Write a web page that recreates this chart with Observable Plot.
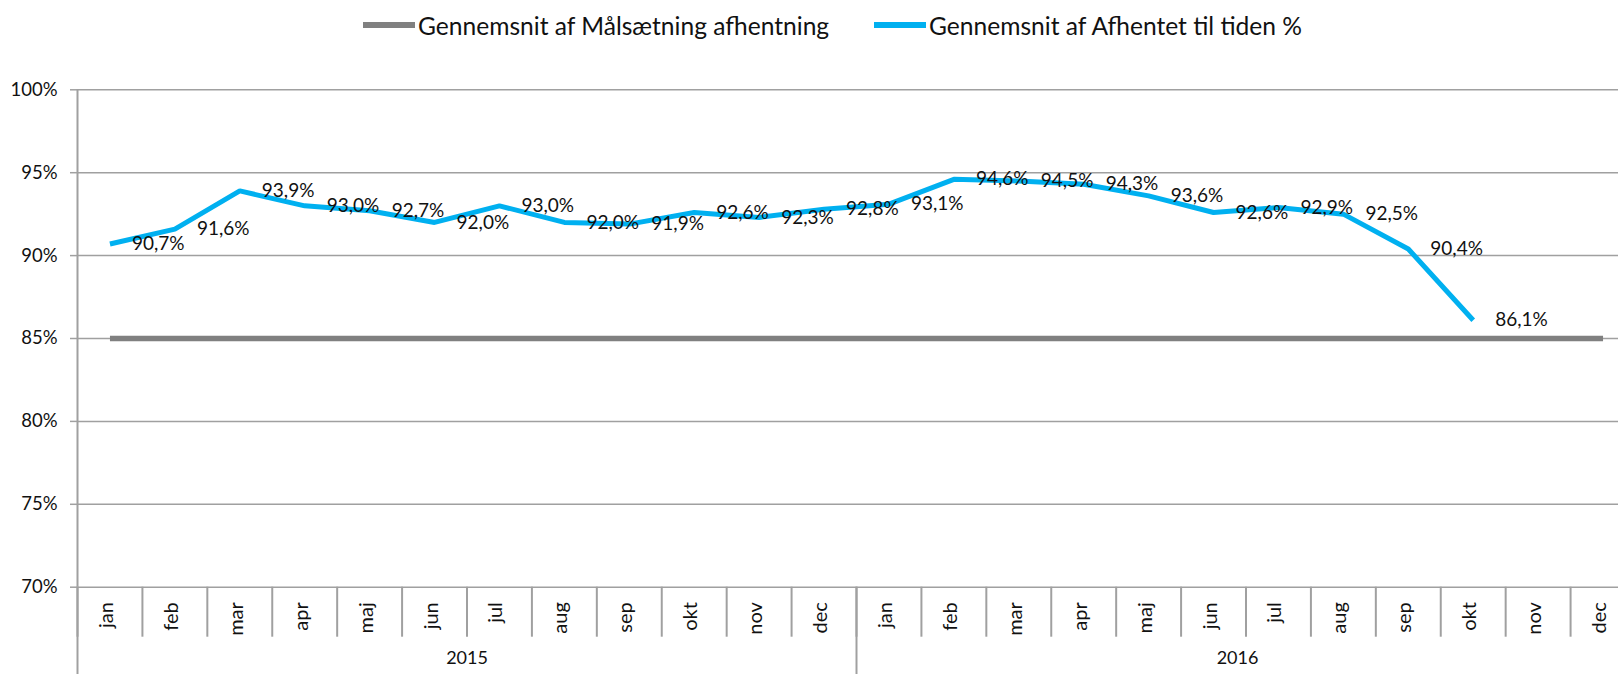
<!DOCTYPE html>
<html>
<head>
<meta charset="utf-8">
<script src="https://cdn.jsdelivr.net/npm/d3@7"></script>
<script src="https://cdn.jsdelivr.net/npm/@observablehq/plot@0.6"></script>
<style>
  html, body { margin: 0; padding: 0; background: #fff; overflow: hidden; }
  #wrap { width: 1618px; height: 674px; overflow: hidden; position: relative; font-family: Lato, "Open Sans", sans-serif; }
  #legend { position: relative; height: 50px; width: 1618px; }
  .item { position: absolute; top: 0; height: 50px; display: flex; align-items: center; color: #111; white-space: nowrap; }
  .sw { display: inline-block; width: 52px; height: 6px; margin-right: 3px; }
  #chart svg { display: block; max-width: none !important; }
</style>
</head>
<body>
<div id="wrap">
  <div id="legend"></div>
  <div id="chart"></div>
</div>
<script>
// ---- data ----
const months = ["jan","feb","mar","apr","maj","jun","jul","aug","sep","okt","nov","dec"];
const years = ["2015","2016"];
const targetValues = [85,85,85,85,85,85,85,85,85,85,85,85, 85,85,85,85,85,85,85,85,85,85,85,85];
const actualValues = [90.7, 91.6, 93.9, 93.0, 92.7, 92.0, 93.0, 92.0, 91.9, 92.6, 92.3, 92.8,
                      93.1, 94.6, 94.5, 94.3, 93.6, 92.6, 92.9, 92.5, 90.4, 86.1];
const yTicks = [70, 75, 80, 85, 90, 95, 100];
const seriesNames = ["Gennemsnit af Målsætning afhentning", "Gennemsnit af Afhentet til tiden %"];
const seriesColors = ["#808080", "#00b0f0"];

// ---- tables ----
const cats = years.flatMap(y => months.map(m => ({year: y, month: m})));
const target = targetValues.map((v, i) => ({i, v}));
const actual = actualValues.map((v, i) => ({i, v}));
const width = 1635, height = 624, mL = 77, mR = 0;
const catW = (width - mL - mR) / cats.length;
const visibleEnd = (1618 - mL) / catW;
const yearLabels = years.map((y, k) => ({year: y, c: (k * 12 + Math.min((k + 1) * 12, visibleEnd)) / 2}));

// ---- legend ----
const legend = document.getElementById("legend");
const lefts = [363, 874];
const targetW = [413, 373];
const cv = document.createElement("canvas").getContext("2d");
cv.font = "22px Lato";
const fs = 22 * ((targetW[0] / cv.measureText(seriesNames[0]).width) + (targetW[1] / cv.measureText(seriesNames[1]).width)) / 2;
seriesNames.forEach((n, k) => {
  const it = document.createElement("div");
  it.className = "item";
  it.style.left = lefts[k] + "px";
  it.style.fontSize = fs.toFixed(2) + "px";
  it.innerHTML = `<span class="sw" style="background:${seriesColors[k]}"></span><span>${n}</span>`;
  legend.appendChild(it);
});

// ---- chart ----
const grid = "#a0a0a0";
const txt = "#111";
const fmt = v => v.toFixed(1).replace(".", ",") + "%";

const plot = Plot.plot({
  width, height,
  marginLeft: mL, marginRight: mR, marginTop: 39.3, marginBottom: 87.3,
  style: {fontFamily: "Lato, 'Open Sans', sans-serif", fontSize: "18.5px", color: txt, background: "#fff", maxWidth: "none"},
  x: {type: "linear", domain: [0, cats.length], axis: null},
  y: {domain: [70, 100], axis: null},
  marks: [
    Plot.gridY(yTicks, {stroke: grid, strokeOpacity: 1, strokeWidth: 1.5}),
    Plot.axisY(yTicks, {tickSize: 7, tickPadding: 13, tickFormat: d => d + "%", stroke: grid, strokeWidth: 1.5, fill: txt, fontSize: 18.5, label: null}),
    Plot.ruleX([0], {stroke: grid, strokeWidth: 2}),
    Plot.axisX(d3.range(cats.length + 1), {tickSize: 50, tickFormat: () => "", stroke: grid, strokeWidth: 2, label: null}),
    Plot.axisX(d3.range(0, cats.length + 1, 12), {tickSize: 88, tickFormat: () => "", stroke: grid, strokeWidth: 2, label: null}),
    Plot.line(target, {x: d => d.i + 0.5, y: "v", stroke: seriesColors[0], strokeWidth: 5.5, strokeLinecap: "butt"}),
    Plot.line(actual, {x: d => d.i + 0.5, y: "v", stroke: seriesColors[1], strokeWidth: 5, strokeLinecap: "butt", strokeLinejoin: "miter"}),
    Plot.text(actual, {x: d => d.i + 0.5, y: "v", text: d => fmt(d.v), dx: 22, textAnchor: "start", fill: txt, fontSize: 19}),
    Plot.text(cats, {x: (d, i) => i + 0.5, text: "month", frameAnchor: "bottom", dx: 3, dy: 15, rotate: -90, textAnchor: "end", fill: txt, fontSize: 20}),
    Plot.text(yearLabels, {x: "c", text: "year", frameAnchor: "bottom", dy: 77, fill: txt, fontSize: 18})
  ]
});
document.getElementById("chart").appendChild(plot);
</script>
</body>
</html>
